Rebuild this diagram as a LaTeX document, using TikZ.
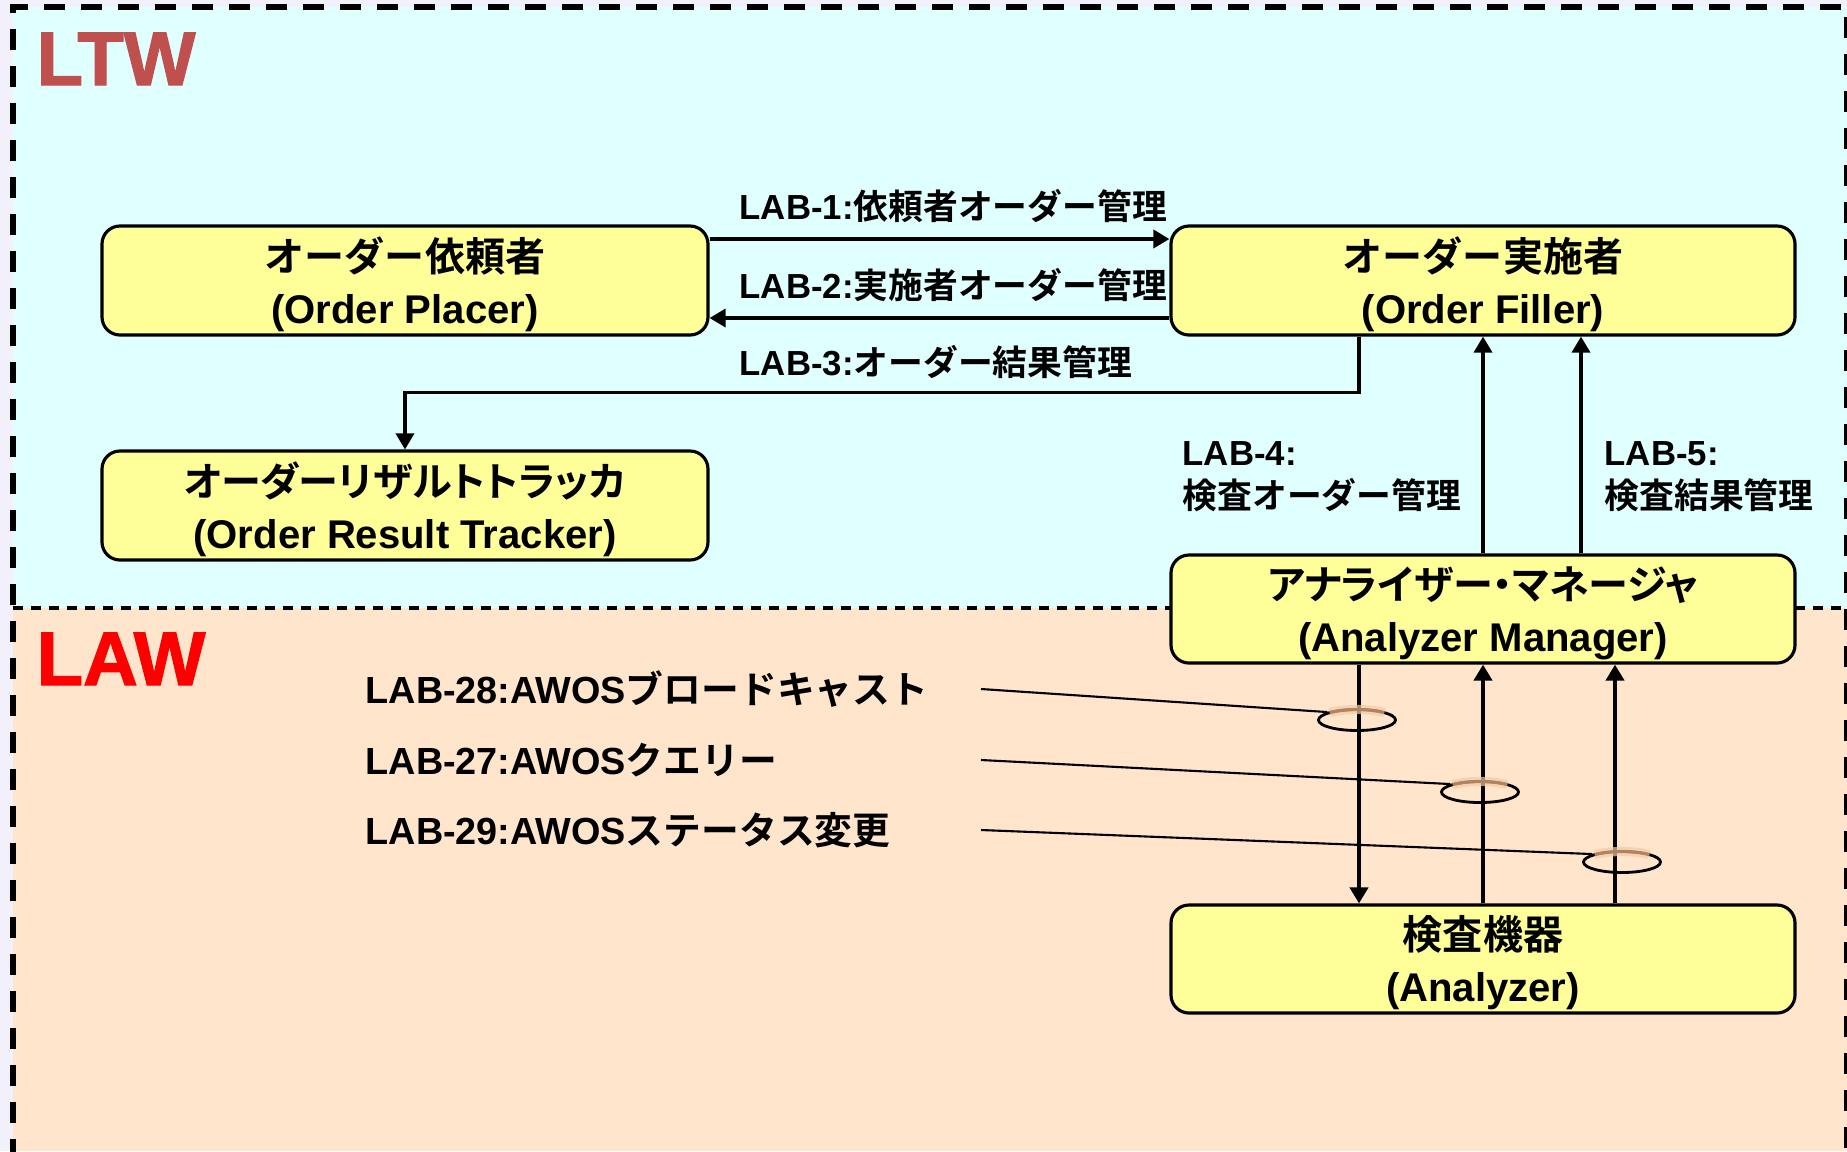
\documentclass[tikz,border=0pt]{standalone}
\usepackage{fontspec}
\setmainfont{Liberation Sans}
\newfontfamily\jp{Noto Sans CJK JP}[BoldFont={Noto Sans CJK JP Bold}]
\newfontfamily\jpp{Noto Sans CJK JP}[BoldFont={Noto Sans CJK JP Bold},RawFeature=+palt]
\newfontfamily\zonefont{Liberation Sans Bold}[FakeBold=1.6]
\usepackage{tikz}
\usetikzlibrary{arrows.meta,shapes.geometric}
\definecolor{pagebg}{RGB}{242,240,250}
\definecolor{ltwbg}{RGB}{224,255,255}
\definecolor{lawbg}{RGB}{255,229,204}
\definecolor{boxfill}{RGB}{255,255,153}
\definecolor{ltwred}{RGB}{192,80,77}
\definecolor{ringtan}{RGB}{176,132,96}
\definecolor{ringglow}{RGB}{242,204,168}
% 2行のボックス文字（少し下げる）
\newcommand{\actortext}[2]{\raisebox{-1.8pt}[\height][\depth]{\begin{tabular}{@{}c@{}}#1\\#2\end{tabular}}}

\begin{document}
\begin{tikzpicture}[>={Triangle[length=1.6mm,width=1.8mm]},
    actor/.style={rectangle,rounded corners=1.8mm,draw,line width=0.9pt,fill=boxfill,inner sep=0pt,minimum height=1.09cm,font=\bfseries\fontsize{11.4}{14.8}\selectfont},
    lab/.style={anchor=west,inner sep=0pt,align=left,font=\bfseries\fontsize{9.9}{12.2}\selectfont},
    awos/.style={anchor=west,inner sep=0pt,font=\bfseries\fontsize{10.75}{13}\selectfont},
    zone/.style={anchor=base west,inner sep=0pt,font=\zonefont\fontsize{21.6}{25}\selectfont},
    ring/.style={ellipse,draw,line width=0.8pt,minimum width=0.77cm,minimum height=0.21cm,inner sep=0pt}]
    	% 背景と領域
    	\fill[pagebg] (0,0) rectangle (18.47,-11.51);
    	\useasboundingbox (0,0) rectangle (18.47,-11.51);
    	\fill[ltwbg] (0.13,-0.07) rectangle (18.47,-6.08);
    	\fill[lawbg] (0.13,-6.08) rectangle (18.47,-11.51);
    	\draw[line width=1.6pt,dash pattern=on 2.1mm off 1.6mm] (0.13,-11.6) -- (0.13,-0.07) -- (18.47,-0.07) -- (18.47,-11.6);
    	\draw[line width=1.2pt,dash pattern=on 1mm off 0.8mm] (0.13,-6.08) -- (18.47,-6.08);
    	
    	\node[zone,text=ltwred] (ltw) at (0.36,-0.85) {LTW};
    	\node[zone,text=red] (law) at (0.36,-6.85) {LAW};
    	
    	\node[actor,minimum width=6.06cm] (placer) at (4.05,-2.805) {\actortext{\jp オーダー依頼者}{(Order Placer)}};
    	\node[actor,minimum width=6.06cm] (tracker) at (4.05,-5.055) {\actortext{\jpp オーダーリザルトトラッカ}{(Order Result Tracker)}};
    	\node[actor,minimum width=6.24cm] (filler) at (14.83,-2.805) {\actortext{\jp オーダー実施者}{(Order Filler)}};
    	\node[actor,minimum width=6.24cm,minimum height=1.08cm] (manager) at (14.83,-6.09) {\actortext{\jpp アナライザー・マネージャ}{(Analyzer Manager)}};
    	\node[actor,minimum width=6.24cm,minimum height=1.08cm] (analyzer) at (14.83,-9.59) {\actortext{\jp 検査機器}{(Analyzer)}};
    	
    	\draw[->,line width=1pt] ([yshift=4.15mm]placer.east) -- ([yshift=4.15mm]filler.west);
    	\draw[->,line width=1pt] ([yshift=-3.75mm]filler.west) -- ([yshift=-3.75mm]placer.east);
    	\draw[->,line width=1pt] ([xshift=-12.4mm]filler.south) -- ++(0,-0.56) -| (tracker.north);
    	\draw[->,line width=1pt] (manager.north) -- (filler.south);
    	\draw[->,line width=1pt] ([xshift=9.8mm]manager.north) -- ([xshift=9.8mm]filler.south);
    	
    	\draw[->,line width=1.4pt] ([xshift=-12.4mm]manager.south) -- ([xshift=-12.4mm]analyzer.north);
    	\draw[->,line width=1.4pt] (analyzer.north) -- (manager.south);
    	\draw[->,line width=1.4pt] ([xshift=13.2mm]analyzer.north) -- ([xshift=13.2mm]manager.south);
    	
    	\node[lab] (lab1) at (7.39,-2.06) {LAB-1:{\jp 依頼者オーダー管理}};
    	\node[lab] (lab2) at (7.39,-2.85) {LAB-2:{\jp 実施者オーダー管理}};
    	\node[lab] (lab3) at (7.39,-3.62) {LAB-3:{\jp オーダー結果管理}};
    	\node[lab] (lab4) at (11.82,-4.765) {LAB-4:\\{\jp 検査オーダー管理}};
    	\node[lab] (lab5) at (16.04,-4.765) {LAB-5:\\{\jp 検査結果管理}};
    	
    	\foreach \n/\txt/\y/\rx/\ry in {28/ブロードキャスト/6.89/13.57/7.20,27/クエリー/7.60/14.80/7.92,29/ステータス変更/8.30/16.22/8.62}{
    		\node[awos] (l\n) at (3.65,-\y) {LAB-\n:AWOS{\jp \txt}};
    		\coordinate (s\n) at (9.81,-\y);
    		\node[ring] (r\n) at (\rx,-\ry) {};
    		\draw[line width=0.6pt] (s\n) -- (r\n.165);
    		\draw[ringglow,line width=2.6pt,opacity=0.7] ([shift={(135:0.385 and 0.105)}]r\n.center) arc[start angle=135,end angle=45,x radius=0.385,y radius=0.105];
    		\draw[ringtan,line width=0.9pt] ([shift={(135:0.385 and 0.105)}]r\n.center) arc[start angle=135,end angle=45,x radius=0.385,y radius=0.105];
    	}
    \end{tikzpicture}
\end{document}
